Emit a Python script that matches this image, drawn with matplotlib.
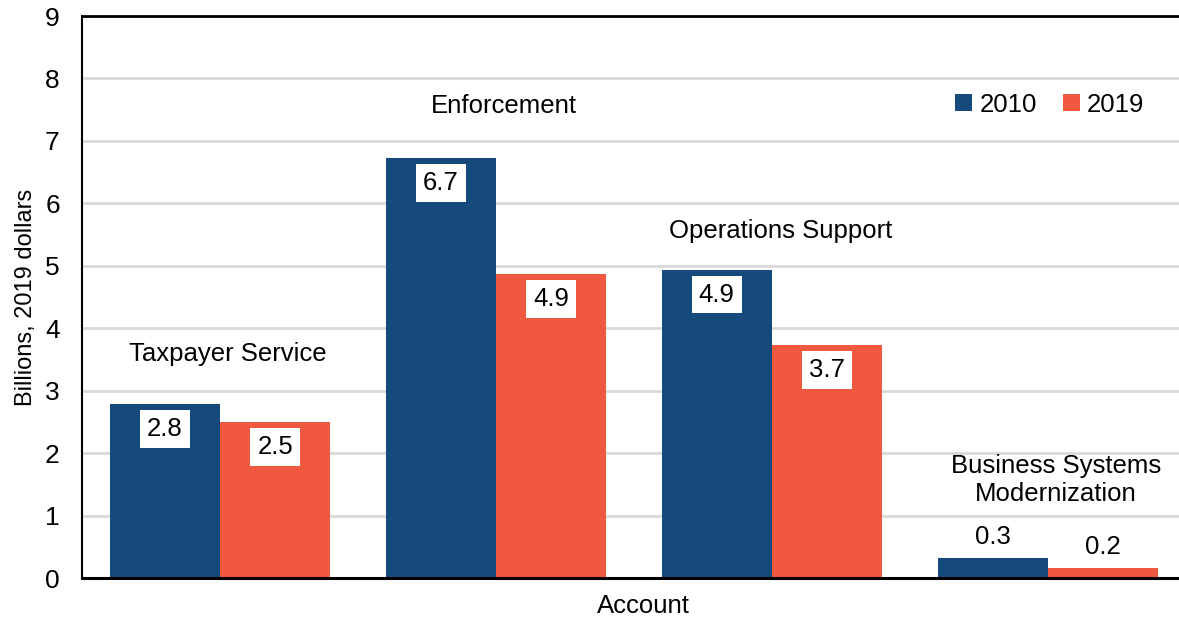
import matplotlib.pyplot as plt
import numpy as np

plt.rcParams['font.family'] = ['Liberation Sans', 'DejaVu Sans']

accounts = ['Taxpayer Service', 'Enforcement', 'Operations Support',
            'Business Systems\nModernization']
years = ['2010', '2019']
vals_2010 = [2.78, 6.73, 4.94, 0.32]
vals_2019 = [2.50, 4.87, 3.73, 0.16]
labels_2010 = ['2.8', '6.7', '4.9', '0.3']
labels_2019 = ['2.5', '4.9', '3.7', '0.2']

# layout: height of the account name above each group
name_y = [3.58, 7.56, 5.56, 1.57]

blue = '#174A7C'
orange = '#F0583F'

def main():
    fig = plt.figure(figsize=(11.79, 6.17), dpi=100)
    ax = fig.add_axes([82 / 1179, 1 - 578 / 617, 1 - 82 / 1179, (578 - 16) / 617])

    x = np.arange(len(accounts))
    w = 0.4
    b1 = ax.bar(x - w / 2, vals_2010, w, color=blue, label=years[0], zorder=2)
    b2 = ax.bar(x + w / 2, vals_2019, w, color=orange, label=years[1], zorder=2)

    for bars, labs in [(b1, labels_2010), (b2, labels_2019)]:
        for rect, lab in zip(bars, labs):
            cx = rect.get_x() + rect.get_width() / 2
            h = rect.get_height()
            if h > 1:
                ax.text(cx, h - 0.4, lab, ha='center', va='center', fontsize=18.5,
                        bbox=dict(facecolor='white', edgecolor='none', pad=5), zorder=3)
            else:
                ax.text(cx, h + 0.33, lab, ha='center', va='center', fontsize=18.5, zorder=3)

    for i, name in enumerate(accounts):
        ax.text(x[i] + 0.03, name_y[i], name, ha='center', va='center',
                fontsize=18.5, linespacing=1.2)

    ax.set_xlim(-0.5, 3.475)
    ax.set_ylim(0, 9)
    ax.set_yticks(range(10))
    ax.set_xticks([])
    ax.tick_params(axis='y', length=0, pad=16, labelsize=19)
    ax.yaxis.grid(True, color='#D9D9D9', linewidth=2, zorder=0)
    ax.set_axisbelow(True)

    ax.spines['right'].set_visible(False)
    ax.spines['left'].set_linewidth(1.5)
    ax.spines['top'].set_linewidth(2)
    ax.spines['bottom'].set_linewidth(2.2)

    ax.set_ylabel('Billions, 2019 dollars', fontsize=17, labelpad=6)
    ax.set_xlabel('Account', fontsize=18.5, va='center')
    ax.xaxis.set_label_coords((643 - 82) / (1179 - 82), -0.05)

    ax.legend(loc='center right', bbox_to_anchor=(0.978, 0.842), borderaxespad=0,
              ncol=2, frameon=False, fontsize=18.5, handlelength=0.65, handleheight=0.65,
              handletextpad=0.3, columnspacing=1.0)

    fig.savefig('out.png', dpi=100)

if __name__ == "__main__":
    main()
